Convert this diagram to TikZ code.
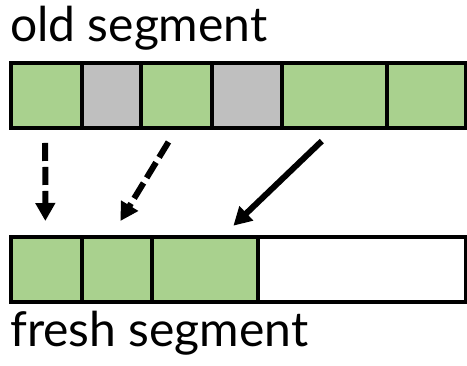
\documentclass[tikz,border=0pt]{standalone}
\usepackage{fontspec}
\setmainfont{Lato}
\usetikzlibrary{arrows.meta}
\definecolor{livegreen}{RGB}{169,209,142}
\definecolor{deadgray}{RGB}{191,191,191}
\tikzset{
  cell/.style={draw=black, line width=4pt, minimum height=65pt, inner sep=0pt, anchor=north west},
  live/.style={cell, fill=livegreen},
  dead/.style={cell, fill=deadgray},
  empty/.style={cell, fill=white},
  label/.style={anchor=base west, inner sep=0pt, font=\fontsize{48}{52}\selectfont},
  move/.style={line width=6pt, -{Triangle[length=18pt, width=19pt]}},
  movedash/.style={move, dash pattern=on 18pt off 6pt},
}
\begin{document}
\begin{tikzpicture}[x=1pt, y=-1pt]
  \useasboundingbox (0,0) rectangle (467,366);

  % segment labels
  \node[label] (oldlbl) at (10,42) {old segment};
  \node[label] (freshlbl) at (10,347) {fresh segment};

  % old segment: live and dead blocks
  \node[live, minimum width=70.4pt] (o1) at (9.3,61) {};
  \node[dead, minimum width=59pt]   (o2) at (79.7,61) {};
  \node[live, minimum width=71.3pt] (o3) at (138.7,61) {};
  \node[dead, minimum width=69.7pt] (o4) at (210,61) {};
  \node[live, minimum width=105.3pt] (o5) at (279.7,61) {};
  \node[live, minimum width=79.3pt] (o6) at (385,61) {};

  % fresh segment: compacted live blocks, then free space
  \node[live, minimum width=70.7pt]  (f1) at (9.3,234.7) {};
  \node[live, minimum width=69.7pt]  (f2) at (80,234.7) {};
  \node[live, minimum width=106.6pt] (f3) at (149.7,234.7) {};
  \node[empty, minimum width=208pt]  (f4) at (256.3,234.7) {};

  % copying live blocks
  \draw[movedash, shorten <=13pt, shorten >=13.7pt] ([xshift=-1.3pt]o1.south) -- ([xshift=-1.3pt]f1.north);
  \draw[movedash, shorten <=14pt, shorten >=16pt] ([xshift=-0.6pt]o3.south) -- ([xshift=-4.8pt]f2.north);
  \draw[move, shorten <=16pt, shorten >=13pt] ([xshift=-1pt]o5.south) -- ([xshift=19pt]f3.north);
\end{tikzpicture}
\end{document}
